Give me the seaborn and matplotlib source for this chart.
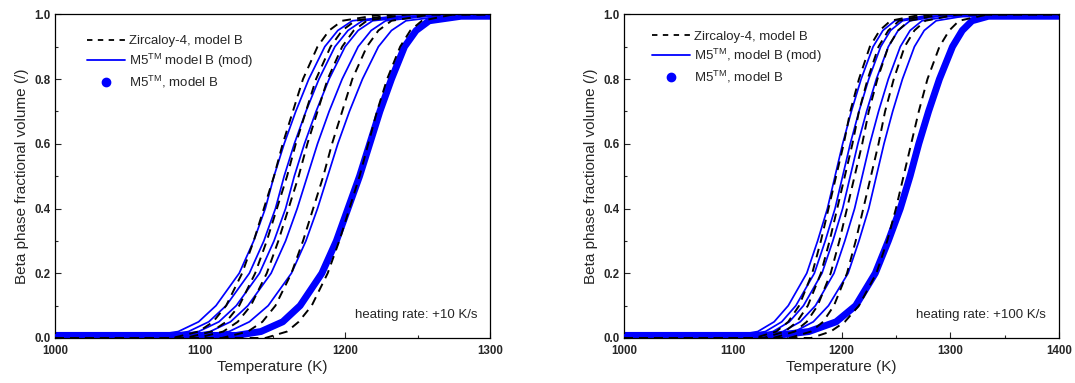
import matplotlib
matplotlib.use("Agg")
import matplotlib.pyplot as plt
from matplotlib.lines import Line2D
from matplotlib.ticker import MultipleLocator, FormatStrFormatter
import seaborn as sns

# ---------------- data ----------------
# fraction levels at which temperatures were read
levels_m5 = [0.008, 0.008, 0.02, 0.05, 0.1, 0.2, 0.3, 0.4, 0.5, 0.6, 0.7, 0.8, 0.9, 0.95, 0.98, 0.994, 0.994]
levels_zry = [0.0, 0.0, 0.02, 0.05, 0.1, 0.2, 0.3, 0.4, 0.5, 0.6, 0.7, 0.8, 0.9, 0.95, 0.98, 1.0, 1.0]

# left panel: heating rate +10 K/s
left_zry_T = [
    [1000, 1081, 1099, 1109, 1118, 1129, 1137, 1144, 1151, 1157, 1164, 1171, 1181, 1189, 1198, 1226, 1300],
    [1000, 1090, 1108, 1118, 1127, 1138, 1146, 1153, 1160, 1166, 1173, 1180, 1190, 1198, 1207, 1235, 1300],
    [1000, 1098, 1116, 1126, 1135, 1146, 1154, 1161, 1168, 1174, 1181, 1188, 1198, 1206, 1215, 1243, 1300],
    [1000, 1115, 1133, 1143, 1152, 1163, 1171, 1178, 1185, 1191, 1198, 1205, 1215, 1223, 1232, 1260, 1300],
    [1000, 1145, 1160, 1168, 1177, 1188, 1196, 1203, 1210, 1216, 1222, 1229, 1238, 1245, 1253, 1275, 1300],
]
left_m5_mod_T = [
    [1000, 1068, 1085, 1099, 1111, 1127, 1137, 1145, 1151, 1158, 1166, 1175, 1186, 1195, 1205, 1235, 1300],
    [1000, 1075, 1092, 1106, 1118, 1134, 1144, 1152, 1158, 1165, 1173, 1182, 1193, 1202, 1212, 1242, 1300],
    [1000, 1082, 1099, 1113, 1125, 1141, 1151, 1159, 1165, 1172, 1180, 1189, 1200, 1209, 1219, 1249, 1300],
    [1000, 1090, 1107, 1121, 1133, 1149, 1159, 1167, 1174, 1181, 1189, 1198, 1209, 1218, 1228, 1257, 1300],
    [1000, 1102, 1120, 1134, 1147, 1163, 1173, 1181, 1188, 1195, 1203, 1212, 1223, 1232, 1242, 1268, 1300],
]
left_m5_T = [1000, 1125, 1142, 1157, 1169, 1184, 1194, 1202, 1210, 1217, 1224, 1232, 1241, 1249, 1258, 1280, 1300]

# right panel: heating rate +100 K/s
right_zry_T = [
    [1000, 1120, 1140, 1151, 1161, 1173, 1181, 1188, 1195, 1202, 1208, 1216, 1226, 1235, 1245, 1275, 1400],
    [1000, 1128, 1148, 1159, 1169, 1181, 1189, 1196, 1203, 1210, 1216, 1224, 1234, 1243, 1253, 1283, 1400],
    [1000, 1137, 1157, 1168, 1178, 1190, 1198, 1205, 1212, 1219, 1225, 1233, 1243, 1252, 1262, 1292, 1400],
    [1000, 1152, 1172, 1183, 1193, 1205, 1213, 1220, 1227, 1234, 1240, 1248, 1258, 1267, 1277, 1307, 1400],
    [1000, 1172, 1190, 1203, 1216, 1232, 1242, 1250, 1257, 1264, 1271, 1279, 1290, 1299, 1308, 1335, 1400],
]
right_m5_mod_T = [
    [1000, 1103, 1123, 1138, 1151, 1168, 1178, 1187, 1194, 1201, 1209, 1218, 1229, 1238, 1249, 1275, 1400],
    [1000, 1110, 1130, 1145, 1158, 1175, 1185, 1194, 1201, 1208, 1216, 1225, 1236, 1245, 1256, 1282, 1400],
    [1000, 1117, 1137, 1152, 1165, 1182, 1192, 1201, 1208, 1215, 1223, 1232, 1243, 1252, 1263, 1289, 1400],
    [1000, 1126, 1146, 1162, 1176, 1193, 1203, 1212, 1219, 1226, 1234, 1243, 1254, 1263, 1274, 1300, 1400],
    [1000, 1137, 1157, 1174, 1188, 1206, 1216, 1225, 1232, 1239, 1247, 1256, 1267, 1276, 1287, 1312, 1400],
]
right_m5_T = [1000, 1140, 1170, 1195, 1213, 1231, 1243, 1254, 1263, 1271, 1280, 1290, 1302, 1311, 1320, 1335, 1400]

x_limits = [(1000, 1300), (1000, 1400)]
rate_labels = ["heating rate: +10 K/s", "heating rate: +100 K/s"]
legend_labels_left = ["Zircaloy-4, model B", r"M5$^{\mathrm{TM}}$ model B (mod)", r"M5$^{\mathrm{TM}}$, model B"]
legend_labels_right = ["Zircaloy-4, model B", r"M5$^{\mathrm{TM}}$, model B (mod)", r"M5$^{\mathrm{TM}}$, model B"]
x_label = "Temperature (K)"
y_label = "Beta phase fractional volume (/)"

# ---------------- style ----------------
sns.set_theme(style="white")
plt.rcParams["font.family"] = ["Liberation Sans", "DejaVu Sans"]
plt.rcParams["mathtext.fontset"] = "custom"
plt.rcParams["mathtext.rm"] = "Liberation Sans"
plt.rcParams["mathtext.it"] = "Liberation Sans:italic"
plt.rcParams["mathtext.bf"] = "Liberation Sans:bold"

BLUE = "#0000ff"
fig = plt.figure(figsize=(10.75, 3.83), dpi=100)
ax_pos = [[0.0512, 0.1175, 0.4047, 0.8452], [0.5805, 0.1175, 0.4047, 0.8452]]

panels = [
    (left_zry_T, left_m5_mod_T, left_m5_T, legend_labels_left),
    (right_zry_T, right_m5_mod_T, right_m5_T, legend_labels_right),
]

for i, (zry, m5mod, m5, leg_labels) in enumerate(panels):
    ax = fig.add_axes(ax_pos[i])
    # thick M5 model B band (dense points)
    sns.lineplot(x=m5, y=levels_m5, ax=ax, color=BLUE, linewidth=5.0,
                 estimator=None, sort=False, solid_capstyle="round",
                 solid_joinstyle="round", zorder=2)
    for T in m5mod:
        sns.lineplot(x=T, y=levels_m5, ax=ax, color=BLUE, linewidth=1.25,
                     estimator=None, sort=False, zorder=3)
    for T in zry:
        sns.lineplot(x=T, y=levels_zry, ax=ax, color="black", linewidth=1.4,
                     estimator=None, sort=False, zorder=4,
                     linestyle=(0, (4.5, 3.2)))

    ax.set_xlim(*x_limits[i])
    ax.set_ylim(0, 1.0)
    ax.xaxis.set_major_locator(MultipleLocator(100))
    ax.xaxis.set_minor_locator(MultipleLocator(50))
    ax.yaxis.set_major_locator(MultipleLocator(0.2))
    ax.yaxis.set_minor_locator(MultipleLocator(0.1))
    ax.yaxis.set_major_formatter(FormatStrFormatter("%.1f"))
    ax.tick_params(axis="both", which="major", direction="in", length=4, width=0.8,
                   labelsize=8.3, top=False, right=False, bottom=True, left=True)
    ax.tick_params(axis="x", which="major", pad=5)
    ax.tick_params(axis="y", which="major", pad=3)
    ax.tick_params(axis="both", which="minor", direction="in", length=2, width=0.8,
                   top=False, right=False, bottom=True, left=True)
    for lab in ax.get_xticklabels() + ax.get_yticklabels():
        lab.set_fontweight("bold")
    for sp in ax.spines.values():
        sp.set_linewidth(0.9)
        sp.set_color("black")
    ax.set_xlabel(x_label, fontsize=11, labelpad=2)
    ax.set_ylabel(y_label, fontsize=11, labelpad=4)
    ax.text(0.97, 0.072, rate_labels[i], transform=ax.transAxes, ha="right",
            va="center", fontsize=9.5)

    handles = [
        Line2D([], [], color="black", linewidth=1.3, linestyle=(0, (3.0, 3.0))),
        Line2D([], [], color=BLUE, linewidth=1.3),
        Line2D([], [], color=BLUE, linestyle="none", marker="o", markersize=6),
    ]
    ax.legend(handles, leg_labels, loc="upper left",
              bbox_to_anchor=(0.055, 0.96) if i == 0 else (0.045, 0.975),
              frameon=False, fontsize=9.5, handlelength=2.9, handletextpad=0.3,
              labelspacing=0.3, borderaxespad=0.2)

fig.savefig("out.png", dpi=100)
